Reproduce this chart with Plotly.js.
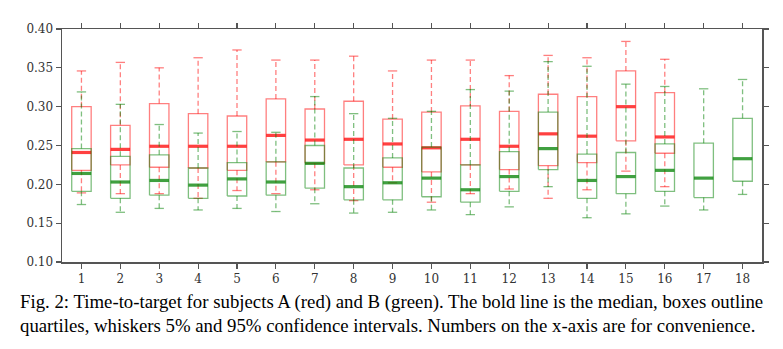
<!DOCTYPE html>
<html><head><meta charset="utf-8">
<script src="https://cdn.plot.ly/plotly-3.0.1.min.js"></script>
<style>body{margin:0;background:#fff}#chart{width:783px;height:349px}</style>
</head><body><div id="chart"></div>
<script>
// Subject A (red), positions 1..16
const redPos  = [1,2,3,4,5,6,7,8,9,10,11,12,13,14,15,16];
const redHigh = [0.346,0.357,0.350,0.363,0.373,0.360,0.360,0.365,0.346,0.360,0.360,0.340,0.366,0.363,0.384,0.361];
const redQ3   = [0.300,0.276,0.304,0.291,0.288,0.310,0.297,0.307,0.284,0.293,0.301,0.294,0.316,0.313,0.346,0.318];
const redMed  = [0.241,0.245,0.249,0.249,0.249,0.263,0.257,0.258,0.252,0.247,0.258,0.249,0.265,0.262,0.300,0.261];
const redQ1   = [0.218,0.225,0.222,0.221,0.218,0.229,0.227,0.225,0.222,0.216,0.225,0.219,0.224,0.228,0.256,0.240];
const redLow  = [0.189,0.188,0.188,0.182,0.192,0.188,0.193,0.179,0.202,0.177,0.188,0.194,0.182,0.193,0.217,0.197];
// Subject B (green), positions 1..18
const grnPos  = [1,2,3,4,5,6,7,8,9,10,11,12,13,14,15,16,17,18];
const grnHigh = [0.319,0.303,0.277,0.266,0.268,0.267,0.313,0.291,0.285,0.294,0.322,0.320,0.358,0.352,0.329,0.326,0.323,0.335];
const grnQ3   = [0.246,0.236,0.238,0.221,0.228,0.229,0.250,0.221,0.234,0.248,0.225,0.242,0.293,0.239,0.241,0.252,0.253,0.285];
const grnMed  = [0.214,0.203,0.205,0.199,0.207,0.203,0.227,0.197,0.202,0.208,0.193,0.210,0.246,0.205,0.210,0.218,0.208,0.233];
const grnQ1   = [0.191,0.182,0.186,0.182,0.185,0.186,0.195,0.180,0.180,0.184,0.177,0.191,0.219,0.182,0.188,0.191,0.183,0.204];
const grnLow  = [0.174,0.164,0.169,0.167,0.169,0.165,0.175,0.163,0.164,0.167,0.161,0.171,0.197,0.157,0.162,0.172,0.167,0.187];
const xTicks  = [1,2,3,4,5,6,7,8,9,10,11,12,13,14,15,16,17,18];
const yTicks  = [0.10,0.15,0.20,0.25,0.30,0.35,0.40];

const HW = 0.25, CW = 0.12;
function boxTraces(pos, hi, q3, med, q1, lo, color, medColor){
  const bx=[],by=[],wx=[],wy=[],cx=[],cy=[],mx=[],my=[];
  pos.forEach((p,i)=>{
    bx.push(p-HW,p+HW,p+HW,p-HW,p-HW,null); by.push(q1[i],q1[i],q3[i],q3[i],q1[i],null);
    wx.push(p,p,null,p,p,null); wy.push(q3[i],hi[i],null,q1[i],lo[i],null);
    cx.push(p-CW,p+CW,null,p-CW,p+CW,null); cy.push(hi[i],hi[i],null,lo[i],lo[i],null);
    mx.push(p-HW,p+HW,null); my.push(med[i],med[i],null);
  });
  const base={type:'scatter',mode:'lines',hoverinfo:'skip',showlegend:false,connectgaps:false};
  return [
    Object.assign({},base,{x:wx,y:wy,line:{color:color,width:1.3,dash:'5px,3px'}}),
    Object.assign({},base,{x:cx,y:cy,line:{color:color,width:1.3}}),
    Object.assign({},base,{x:bx,y:by,line:{color:color,width:1.3}}),
    Object.assign({},base,{x:mx,y:my,line:{color:medColor,width:3.2}})
  ];
}
const data = [].concat(
  boxTraces(redPos, redHigh, redQ3, redMed, redQ1, redLow, 'rgba(255,0,0,0.5)', 'rgba(255,0,0,0.75)'),
  boxTraces(grnPos, grnHigh, grnQ3, grnMed, grnQ1, grnLow, 'rgba(0,128,0,0.5)', 'rgba(0,128,0,0.75)')
);
const axisCommon = {showgrid:false, zeroline:false, showline:true, linecolor:'#555', linewidth:1.5,
  mirror:'allticks', ticks:'outside', ticklen:5, tickwidth:1.2, tickcolor:'#555',
  tickfont:{family:'DejaVu Serif, Liberation Serif, serif', size:12, color:'#333'}};
const layout = {
  width:783, height:349,
  margin:{l:62, r:21, t:29, b:87},
  paper_bgcolor:'#fff', plot_bgcolor:'#fff',
  xaxis: Object.assign({}, axisCommon, {range:[0.5,18.5], tickvals:xTicks, ticktext:xTicks.map(String)}),
  yaxis: Object.assign({}, axisCommon, {range:[0.10,0.40], tickvals:yTicks, ticktext:yTicks.map(v=>v.toFixed(2))}),
  annotations:[{
    xref:'paper', yref:'paper', x:-0.063, y:-0.117, xanchor:'left', yanchor:'top', align:'left', showarrow:false,
    text:'Fig. 2: Time-to-target for subjects A (red) and B (green). The bold line is the median, boxes outline<br>quartiles, whiskers 5% and 95% confidence intervals. Numbers on the x-axis are for convenience.',
    font:{family:'Liberation Serif, Times New Roman, serif', size:18.8, color:'#000'}
  }]
};
Plotly.newPlot('chart', data, layout, {displayModeBar:false, staticPlot:true});
</script></body></html>
